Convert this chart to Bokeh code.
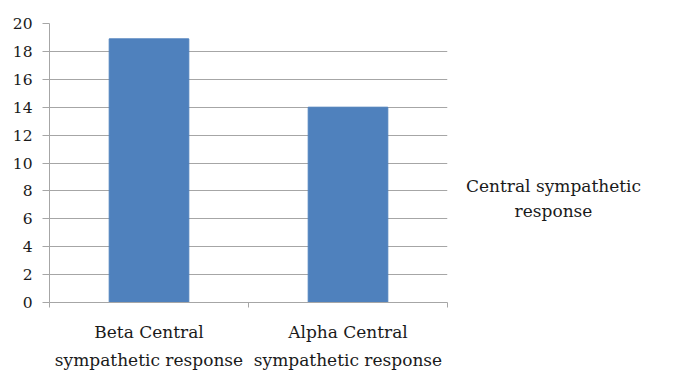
from bokeh.plotting import figure
from bokeh.models import FixedTicker, Range1d, ColumnDataSource
from bokeh.layouts import row
from bokeh.core.properties import value
from bokeh.embed import file_html
from bokeh.resources import INLINE

categories = ["Beta Central\nsympathetic response", "Alpha Central\nsympathetic response"]
values = [18.9, 14.0]
y_ticks = list(range(0, 21, 2))
series_name = "Central sympathetic\nresponse"

xs = [i + 0.5 for i in range(len(categories))]
src = ColumnDataSource(dict(x=xs, top=values))

FONT = "DejaVu Serif"
GRAY = "#a6a6a6"
TXT = "#1a1a1a"
H = 377

p = figure(width=457, height=H, output_backend="svg", toolbar_location=None,
           x_range=Range1d(0, len(categories)), y_range=Range1d(0, 20),
           min_border_left=49, min_border_right=10, min_border_top=23, min_border_bottom=75)
p.outline_line_color = None

p.vbar(x="x", top="top", width=0.4, bottom=0, source=src,
       fill_color="#4f81bd", line_color="#4f81bd")

# y axis
p.yaxis.ticker = FixedTicker(ticks=y_ticks, minor_ticks=[])
p.yaxis.axis_line_color = GRAY
p.yaxis.major_tick_line_color = GRAY
p.yaxis.major_tick_out = 7
p.yaxis.major_tick_in = 0
p.yaxis.minor_tick_line_color = None
p.yaxis.major_label_standoff = 10
p.yaxis.major_label_text_font = FONT
p.yaxis.major_label_text_font_size = "15.5px"
p.yaxis.major_label_text_color = TXT

# x axis: labels at category centres, ticks at boundaries
p.xaxis.ticker = FixedTicker(ticks=xs, minor_ticks=list(range(len(categories) + 1)))
p.xaxis.major_label_overrides = {x: c for x, c in zip(xs, categories)}
p.xaxis.axis_line_color = GRAY
p.xaxis.major_tick_line_color = None
p.xaxis.major_tick_out = 0
p.xaxis.major_tick_in = 0
p.xaxis.minor_tick_line_color = GRAY
p.xaxis.minor_tick_out = 5
p.xaxis.minor_tick_in = 0
p.xaxis.major_label_standoff = 14
p.xaxis.major_label_text_font = FONT
p.xaxis.major_label_text_font_size = "17px"
p.xaxis.major_label_text_color = TXT
p.xaxis.major_label_text_line_height = 1.4

p.xgrid.grid_line_color = None
p.ygrid.grid_line_color = GRAY
p.ygrid.ticker = FixedTicker(ticks=y_ticks)

# side panel holding the series name
W2 = 214
p2 = figure(width=W2, height=H, output_backend="svg", toolbar_location=None,
            x_range=Range1d(0, W2), y_range=Range1d(0, H),
            min_border=0)
p2.axis.visible = False
p2.grid.visible = False
p2.outline_line_color = None
p2.text(x=[96], y=[H - 236], text=[series_name], text_align="center",
        text_baseline="middle", text_font=value(FONT), text_font_size="17px",
        text_color=TXT, text_line_height=1.25)

layout = row(p, p2)
open("out.html", "w").write(file_html(layout, INLINE))
